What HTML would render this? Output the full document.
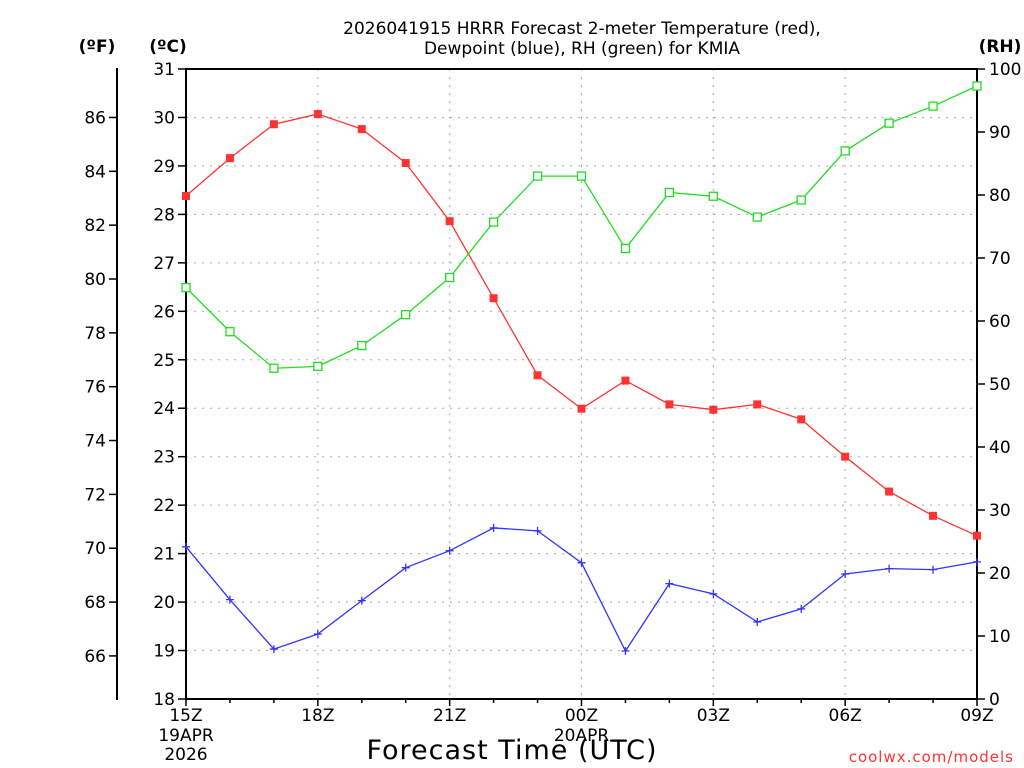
<!DOCTYPE html>
<html><head><meta charset="utf-8"><style>
html,body{margin:0;padding:0;background:#fff;}
svg{display:block;font-family:"DejaVu Sans","Liberation Sans",sans-serif;}
</style></head><body>
<svg id="chart" width="1024" height="768" viewBox="0 0 1024 768" xmlns="http://www.w3.org/2000/svg">
<g id="grid"></g>
<g id="axes"></g>
<g id="series"></g>
<text x="582" y="34" text-anchor="middle" font-size="17">2026041915 HRRR Forecast 2-meter Temperature (red),</text>
<text x="582" y="54" text-anchor="middle" font-size="17">Dewpoint (blue), RH (green) for KMIA</text>
<text x="97" y="52" text-anchor="middle" font-size="17" font-weight="bold">(ºF)</text>
<text x="168" y="52" text-anchor="middle" font-size="17" font-weight="bold">(ºC)</text>
<text x="1000" y="52" text-anchor="middle" font-size="17" font-weight="bold">(RH)</text>
<text x="512" y="759" text-anchor="middle" font-size="27" letter-spacing="1">Forecast Time (UTC)</text>
<text x="1014" y="762" text-anchor="end" font-size="15" fill="#ff3333" letter-spacing="1">coolwx.com/models</text>
</svg>
<script>
const hours = ["15Z","16Z","17Z","18Z","19Z","20Z","21Z","22Z","23Z","00Z","01Z","02Z","03Z","04Z","05Z","06Z","07Z","08Z","09Z"];
const tempC = [28.38,29.16,29.86,30.07,29.76,29.06,27.86,26.27,24.68,23.99,24.57,24.08,23.97,24.08,23.77,23.0,22.28,21.78,21.37];
const dewC = [21.14,20.05,19.03,19.34,20.03,20.71,21.06,21.53,21.47,20.81,18.99,20.38,20.17,19.59,19.86,20.58,20.69,20.67,20.83];
const rh = [65.3,58.3,52.5,52.8,56.1,61.0,66.9,75.7,83.0,83.0,71.5,80.4,79.8,76.5,79.2,87.0,91.4,94.1,97.3];
const cTicks = [18,19,20,21,22,23,24,25,26,27,28,29,30,31];
const fTicks = [66,68,70,72,74,76,78,80,82,84,86];
const rhTicks = [0,10,20,30,40,50,60,70,80,90,100];
const xLabels = ["15Z","18Z","21Z","00Z","03Z","06Z","09Z"];

const NS="http://www.w3.org/2000/svg";
const L=186,R=977,T=69,B=699;
const xs=i=>L+(R-L)*i/(hours.length-1);
const yc=c=>B-(c-18)/(31-18)*(B-T);
const yr=v=>B-v/100*(B-T);
const yf=f=>yc((f-32)/1.8);
function mk(tag,attrs,parent){const e=document.createElementNS(NS,tag);for(const k in attrs)e.setAttribute(k,attrs[k]);parent.appendChild(e);return e;}
const grid=document.getElementById('grid'),axes=document.getElementById('axes'),ser=document.getElementById('series');

cTicks.forEach(c=>{
  const g=mk('line',{x1:L,x2:R,y1:yc(c),y2:yc(c),stroke:'#aaa','stroke-dasharray':'2,6'},grid);
  
  
  const t=mk('line',{x1:L-8,x2:L,y1:yc(c),y2:yc(c),stroke:'#000','stroke-width':1.5},axes);
  
  
  const tx=mk('text',{x:L-11,y:yc(c)+6,'text-anchor':'end','font-size':17},axes);
  tx.textContent=c;
  
  
});
hours.forEach((h,i)=>{
  const x=xs(i);
  if(i%3===0&&i>0&&i<hours.length-1){
    const g=mk('line',{x1:x,x2:x,y1:T,y2:B,stroke:'#aaa','stroke-dasharray':'2,6'},grid);
    
    
  }
  const t=mk('line',{x1:x,x2:x,y1:B,y2:B+(i%3===0?7:4),stroke:'#000','stroke-width':1.5},axes);
  
  
});
xLabels.forEach((lab,j)=>{
  const tx=mk('text',{x:xs(j*3),y:B+22,'text-anchor':'middle','font-size':17},axes);
  tx.textContent=lab;
  
  
});
[["19APR",L,B+42],["2026",L,B+61],["20APR",xs(9),B+42]].forEach(d=>{
  const tx=mk('text',{x:d[1],y:d[2],'text-anchor':'middle','font-size':17},axes);
  tx.textContent=d[0];
  
  
});
fTicks.forEach(f=>{
  const t=mk('line',{x1:109,x2:117,y1:yf(f),y2:yf(f),stroke:'#000','stroke-width':1.5},axes);
  
  
  const tx=mk('text',{x:106,y:yf(f)+6,'text-anchor':'end','font-size':17},axes);
  tx.textContent=f;
  
  
});
rhTicks.forEach(v=>{
  const t=mk('line',{x1:R,x2:R+8,y1:yr(v),y2:yr(v),stroke:'#000','stroke-width':1.5},axes);
  
  
  const tx=mk('text',{x:R+12,y:yr(v)+6,'text-anchor':'start','font-size':17},axes);
  tx.textContent=v;
  
  
});
const fr=mk('rect',{x:L,y:T,width:R-L,height:B-T,fill:'none',stroke:'#000','stroke-width':2},axes);


const fa=mk('line',{x1:117,x2:117,y1:T-1,y2:B+1,stroke:'#000','stroke-width':2},axes);



function line(vals,yfn,color,name){
  const pts=vals.map((v,i)=>xs(i)+','+yfn(v)).join(' ');
  const p=mk('polyline',{points:pts,fill:'none',stroke:color,'stroke-width':1.3},ser);
  
  
}
line(tempC,yc,'#ff3333','temperature');
line(dewC,yc,'#3333ff','dewpoint');
line(rh,yr,'#22dd22','rh');
tempC.forEach((v,i)=>{
  const m=mk('rect',{x:xs(i)-4,y:yc(v)-4,width:8,height:8,fill:'#ff3333'},ser);
  
  
});
dewC.forEach((v,i)=>{
  const m=mk('path',{d:`M${xs(i)-4},${yc(v)}h8M${xs(i)},${yc(v)-4}v8`,stroke:'#3333ff','stroke-width':1.3},ser);
  
  
});
rh.forEach((v,i)=>{
  const m=mk('rect',{x:xs(i)-4,y:yr(v)-4,width:8,height:8,fill:'#fff',stroke:'#22dd22','stroke-width':1.3},ser);
  
  
});
</script>
</body></html>
